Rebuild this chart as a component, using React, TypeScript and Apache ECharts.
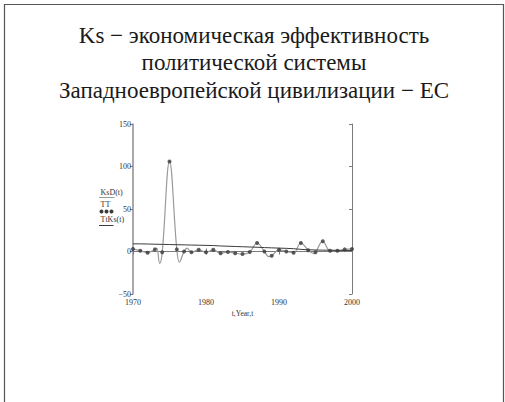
import React, { useEffect, useRef } from "react";
import * as echarts from "echarts";

const titleLines = [
  "Ks \u2212 экономическая эффективность",
  "политической системы",
  "Западноевропейской цивилизации \u2212 ЕС",
];

const years = [
  1970, 1971, 1972, 1973, 1974, 1975, 1976, 1977, 1978, 1979, 1980,
  1981, 1982, 1983, 1984, 1985, 1986, 1987, 1988, 1989, 1990,
  1991, 1992, 1993, 1994, 1995, 1996, 1997, 1998, 1999, 2000,
];

// TT: observed values (dots)
const ttValues = [
  3, 1, -1.5, 2.5, -1, 106, 2.5, 0, -1, 2, -1,
  2, -2, -0.5, -2, -3, -0.5, 10, 0, -5, 2,
  0, -1.5, 10, 1.5, -1, 12, 1, 1, 2.5, 3,
];

// KsD(t): extra extrema of the smooth curve
const ksdExtraYears = [1973.25, 1973.65, 1976.35, 1977.4, 1988.6, 1994.8];
const ksdExtraValues = [4, -14, -12.5, 4, -6, -2.5];

// TtKs(t): trend
const trendValues = [
  9, 9, 8.8, 8.6, 8.4, 8.2, 8, 7.8, 7.6, 7.4, 7.2,
  7, 6.5, 6.2, 5.9, 5.6, 5.3, 5, 4.6, 4.3, 4,
  3.7, 3.3, 2.5, 2, 1.8, 1.6, 1.5, 1.4, 1.3, 1.2,
];

const xTicks = { min: 1970, max: 2000, interval: 10 };
const yTicks = { min: -50, max: 150, interval: 50 };

export default function App() {
  const ref = useRef<HTMLDivElement>(null);

  useEffect(() => {
    if (!ref.current) return;
    const chart = echarts.init(ref.current, undefined, { renderer: "svg" });

    const ttData = years.map((y, i) => [y, ttValues[i]]);
    const ksdData = [
      ...ttData,
      ...ksdExtraYears.map((y, i) => [y, ksdExtraValues[i]]),
    ].sort((a, b) => a[0] - b[0]);
    const trendData = years.map((y, i) => [y, trendValues[i]]);

    const serif = "'Liberation Serif', serif";
    const axisColor = "#7a7a7a";
    const textColor = "#333333";

    const titleY = [35, 62.5, 90];

    chart.setOption({
      animation: false,
      textStyle: { fontFamily: serif, color: textColor },
      grid: { left: 133, right: 153, top: 124, bottom: 108 },
      xAxis: [
        {
          type: "value",
          min: xTicks.min,
          max: xTicks.max,
          interval: xTicks.interval,
          position: "bottom",
          axisLine: { show: true, lineStyle: { color: axisColor, width: 1 } },
          axisTick: { show: true, inside: true, length: 3, lineStyle: { color: axisColor } },
          splitLine: { show: false },
          axisLabel: {
            fontFamily: serif,
            fontSize: 8,
            color: textColor,
            margin: 4,
            formatter: (v: number) => String(v),
          },
          name: "t,Year,t",
          nameLocation: "middle",
          nameGap: 15,
          nameTextStyle: { fontFamily: serif, fontSize: 7.5, color: textColor },
        },
        {
          type: "value",
          min: xTicks.min,
          max: xTicks.max,
          interval: xTicks.interval,
          position: "top",
          axisLine: { show: true, lineStyle: { color: axisColor, width: 1 } },
          axisTick: { show: true, inside: true, length: 3, lineStyle: { color: axisColor } },
          splitLine: { show: false },
          axisLabel: { show: false },
        },
      ],
      yAxis: [
        {
          type: "value",
          min: yTicks.min,
          max: yTicks.max,
          interval: yTicks.interval,
          position: "left",
          axisLine: { show: true, lineStyle: { color: "#8c8c8c", width: 1.5 } },
          axisTick: { show: true, inside: false, length: 3, lineStyle: { color: axisColor } },
          splitLine: { show: false },
          axisLabel: {
            fontFamily: serif,
            fontSize: 8,
            color: textColor,
            margin: 2,
            formatter: (v: number) => String(v).replace("-", "\u2212"),
          },
        },
        {
          type: "value",
          min: yTicks.min,
          max: yTicks.max,
          interval: yTicks.interval,
          position: "right",
          axisLine: { show: true, lineStyle: { color: axisColor, width: 1 } },
          axisTick: { show: true, inside: true, length: 3, lineStyle: { color: axisColor } },
          splitLine: { show: false },
          axisLabel: { show: false },
        },
      ],
      series: [
        {
          name: "KsD(t)",
          type: "line",
          data: ksdData,
          smooth: 0.4,
          showSymbol: false,
          lineStyle: { color: "#9a9a9a", width: 1.2 },
          z: 2,
        },
        {
          name: "TtKs(t)",
          type: "line",
          data: trendData,
          showSymbol: false,
          lineStyle: { color: "#3c3c3c", width: 1 },
          z: 3,
        },
        {
          name: "TT",
          type: "scatter",
          data: ttData,
          symbol: "circle",
          symbolSize: 4,
          itemStyle: { color: "#3a3a3a" },
          z: 4,
        },
      ],
      graphic: [
        {
          type: "rect",
          shape: { x: 4.5, y: 4.5, width: 499, height: 420 },
          style: { fill: "none", stroke: "#555", lineWidth: 1.2 },
          silent: true,
        },
        ...titleLines.map((t, i) => ({
          type: "text",
          x: 254,
          y: titleY[i],
          style: {
            text: t,
            font: "23px 'Liberation Serif', serif",
            fill: "#1a1a1a",
            textAlign: "center",
            textVerticalAlign: "middle",
          },
        })),
        {
          type: "text",
          x: 100.5,
          y: 188,
          style: { text: "KsD(t)", font: "8px 'Liberation Serif', serif", fill: textColor },
        },
        {
          type: "line",
          shape: { x1: 99, y1: 197.5, x2: 114.5, y2: 197.5 },
          style: { stroke: "#9a9a9a", lineWidth: 1 },
        },
        {
          type: "text",
          x: 100.5,
          y: 200,
          style: { text: "TT", font: "8px 'Liberation Serif', serif", fill: textColor },
        },
        {
          type: "circle",
          shape: { cx: 101.5, cy: 211.5, r: 2 },
          style: { fill: "#3a3a3a" },
        },
        {
          type: "circle",
          shape: { cx: 106.5, cy: 211.5, r: 2 },
          style: { fill: "#3a3a3a" },
        },
        {
          type: "circle",
          shape: { cx: 111.5, cy: 211.5, r: 2 },
          style: { fill: "#3a3a3a" },
        },
        {
          type: "text",
          x: 100.5,
          y: 215,
          style: { text: "TtKs(t)", font: "8px 'Liberation Serif', serif", fill: textColor },
        },
        {
          type: "line",
          shape: { x1: 99, y1: 225.5, x2: 113.5, y2: 225.5 },
          style: { stroke: "#3c3c3c", lineWidth: 1 },
        },
      ],
    });

    return () => chart.dispose();
  }, []);

  return (
    <div
      ref={ref}
      style={{ position: "absolute", left: 0, top: 0, width: 505, height: 402 }}
    />
  );
}
